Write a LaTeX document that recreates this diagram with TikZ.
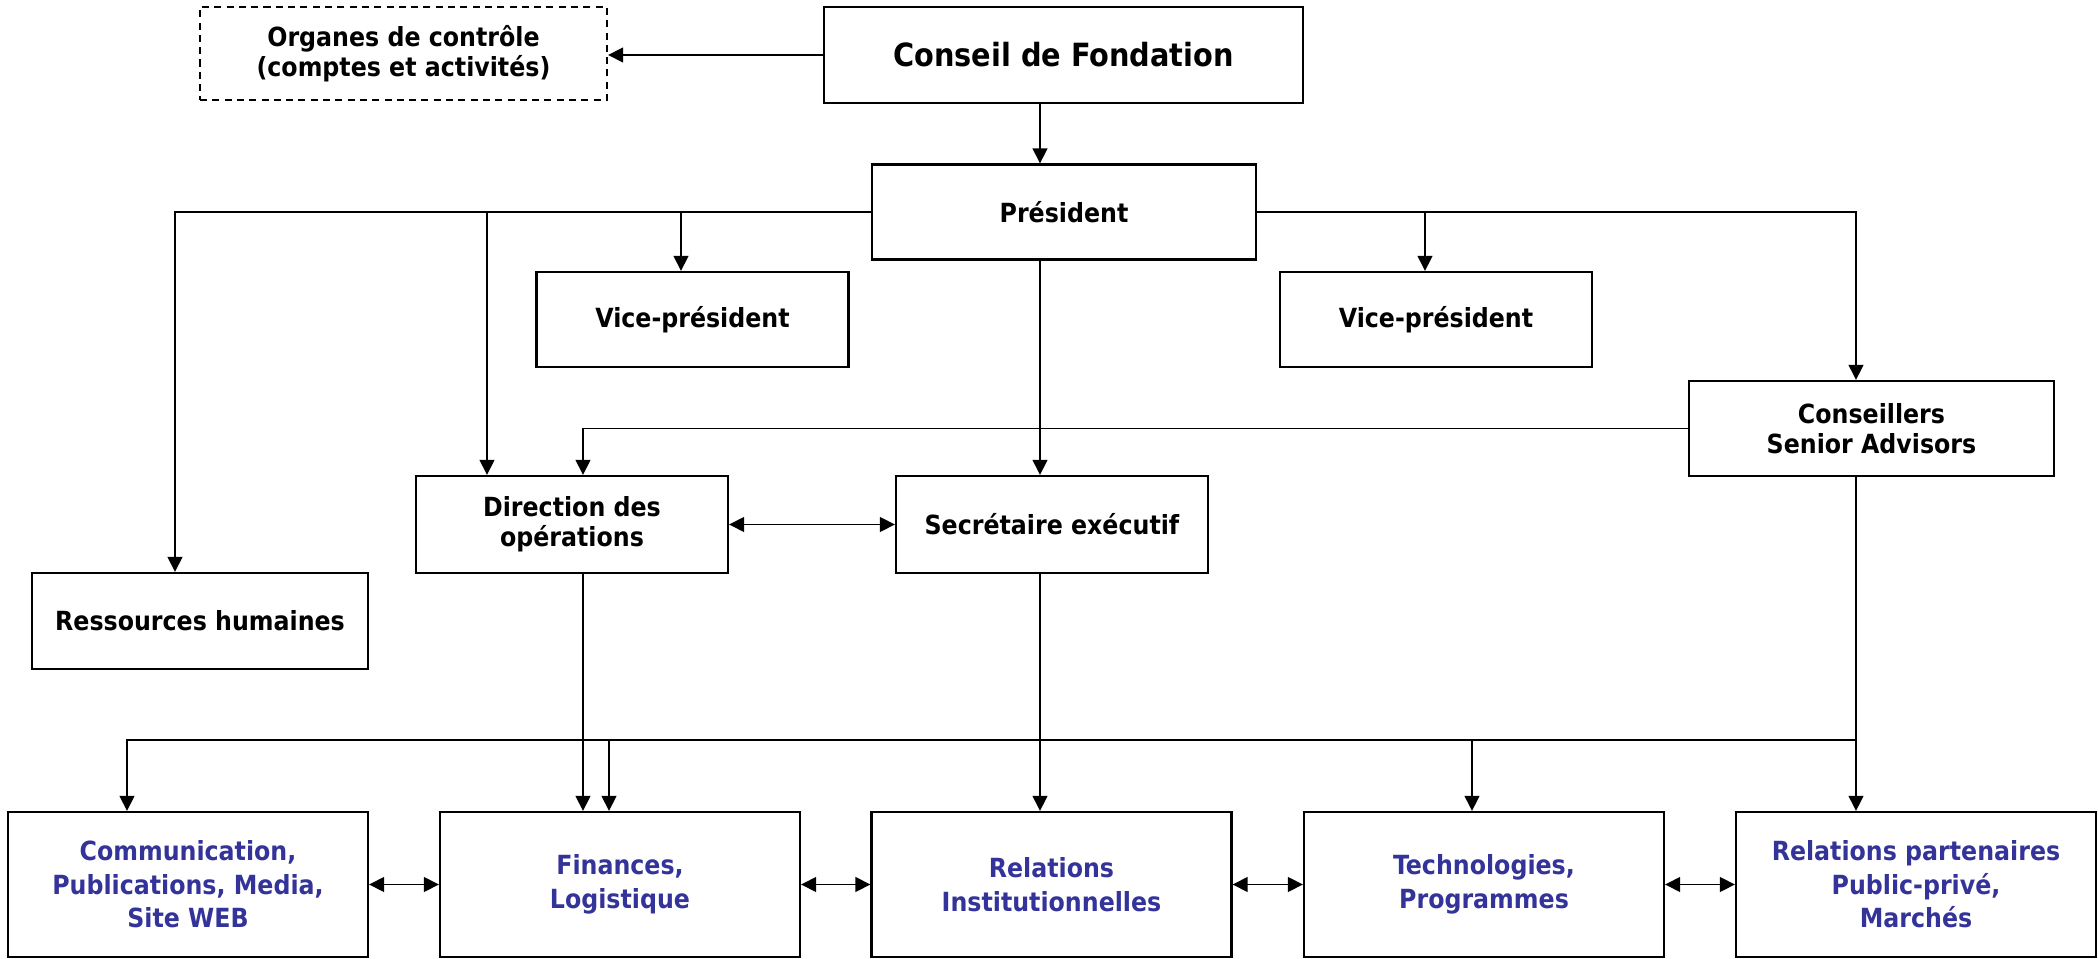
\documentclass[tikz,border=0pt]{standalone}
\usepackage{fontspec}
\setmainfont{DejaVu Sans Condensed}
\usetikzlibrary{arrows.meta,calc}
\definecolor{unitblue}{RGB}{51,51,153}

\begin{document}
\begin{tikzpicture}[
  box/.style={draw,line width=.6pt,inner sep=0pt,align=center,
    font=\bfseries\fontsize{7.5}{8.6}\selectfont,
    minimum width=3.12cm,minimum height=.96cm},
  unit/.style={box,text=unitblue,minimum width=3.6cm,minimum height=1.45cm,
    font=\bfseries\fontsize{7.5}{9.5}\selectfont},
  >={Triangle[length=4.3pt,width=4.2pt]},
  link/.style={->,line width=.55pt}]
  \useasboundingbox (0,0) rectangle (20.98,-9.59);
  % top
  \draw(4.035,-0.535) node[box,dash pattern=on 2pt off 1.5pt,minimum width=4.07cm,minimum height=.93cm] (org) {Organes de contrôle\\(comptes et activités)};
  \draw(10.635,-0.55) node[box,minimum width=4.79cm,font=\bfseries\fontsize{9.1}{10}\selectfont] (cf) {Conseil de Fondation};
  \draw(10.64,-2.12) node[box,minimum width=3.84cm,minimum height=.95cm] (pr) {Président};
  \draw(6.925,-3.195) node[box,minimum height=.95cm] (vp1) {Vice-président};
  \draw(14.36,-3.195) node[box,minimum height=.95cm] (vp2) {Vice-président};
  \draw(18.715,-4.285) node[box,minimum width=3.65cm,minimum height=.95cm] (sa) {Conseillers\\Senior Advisors};
  \draw(5.72,-5.245) node[box,minimum height=.97cm] (dop) {Direction des\\opérations};
  \draw(10.52,-5.245) node[box,minimum height=.97cm] (se) {Secrétaire exécutif};
  \draw(2.00,-6.21) node[box,minimum width=3.36cm] (rh) {Ressources humaines};
  % bottom row
  \draw(1.88,-8.845) node[unit] (com) {Communication,\\Publications, Media,\\Site WEB};
  \draw(6.20,-8.845) node[unit] (fin) {Finances,\\Logistique};
  \draw(10.515,-8.845) node[unit] (ri) {Relations\\Institutionnelles};
  \draw(14.84,-8.845) node[unit] (tec) {Technologies,\\Programmes};
  \draw(19.16,-8.845) node[unit] (rpp) {Relations partenaires\\Public-privé,\\Marchés};
  % entry points
  \coordinate (ax) at ([xshift=-2.35mm]cf.south);
  \coordinate (rhin) at ([xshift=-2.5mm]rh.north);
  \coordinate (dopa) at ([xshift=-8.5mm]dop.north);
  \coordinate (dopb) at ([xshift=1.1mm]dop.north);
  \coordinate (vp1in) at ([xshift=-1.15mm]vp1.north);
  \coordinate (vp2in) at ([xshift=-1.1mm]vp2.north);
  \coordinate (sain) at ([xshift=-1.55mm]sa.north);
  \coordinate (bus) at (0,-7.40);
  \draw[link] (cf.west) -- (cf.west -| org.east);
  \draw[link] (ax) -- (ax |- pr.north);
  \draw[link] (pr.west) -| (rhin);
  \draw[link] (dopa |- pr.west) -- (dopa);
  \draw[link] (vp1in |- pr.west) -- (vp1in);
  \draw[link] (pr.east) -| (sain);
  \draw[link] (vp2in |- pr.east) -- (vp2in);
  \draw[link] (ax |- pr.south) -- (ax |- se.north);
  \draw[link] (sa.west) -| (dopb);
  \draw[link,<->] (dop.east) -- (se.west);
  \draw[link] (dopb |- dop.south) -- (dopb |- fin.north);
  \draw[link] (ax |- se.south) -- (ax |- ri.north);
  \draw[link] (sain |- sa.south) -- (sain |- rpp.north);
  \draw[link] (sain |- bus) -| ([xshift=-6.1mm]com.north);
  \draw[link] ([xshift=-1.1mm]fin.north |- bus) -- ([xshift=-1.1mm]fin.north);
  \draw[link] ([xshift=-1.2mm]tec.north |- bus) -- ([xshift=-1.2mm]tec.north);
  \foreach \a/\b in {com/fin,fin/ri,ri/tec,tec/rpp}
    \draw[link,<->] (\a.east) -- (\b.west);
\end{tikzpicture}
\end{document}
